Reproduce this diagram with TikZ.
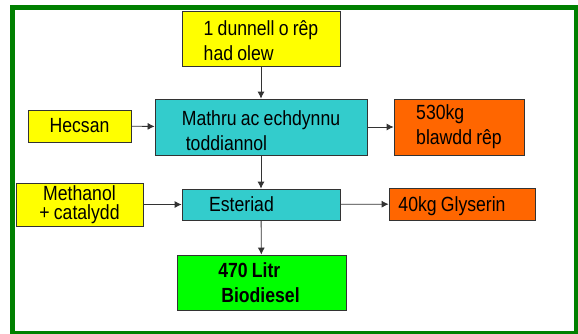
\documentclass[tikz,border=0pt]{standalone}
\usepackage{fontspec}
\setmainfont[FakeStretch=0.86,WordSpace=0.86]{Liberation Sans}
\usetikzlibrary{arrows.meta}
\definecolor{seedyellow}{RGB}{255,255,0}
\definecolor{procteal}{RGB}{51,204,204}
\definecolor{outorange}{RGB}{255,102,0}
\definecolor{fuelgreen}{RGB}{0,255,0}
\definecolor{framegreen}{RGB}{0,128,0}
\tikzset{>={Latex[length=7pt,width=7pt]},
	box/.style={draw=black!80,line width=0.8pt,align=left,inner ysep=0pt,font=\fontsize{20.5}{25}\selectfont},
	ybox/.style={box,fill=seedyellow},
	cbox/.style={box,fill=procteal},
	obox/.style={box,fill=outorange},
	gbox/.style={box,fill=fuelgreen,font=\fontsize{20.5}{24.5}\selectfont\bfseries},
	flow/.style={->,draw=black!80,line width=0.8pt},
	greenframe/.style={draw=framegreen,line width=5pt}}

\begin{document}
\begin{tikzpicture}[x=1pt,y=-1pt]
		\useasboundingbox (0,0) rectangle (578,333);
		\draw [greenframe] (12.5,7.5) rectangle (576.5,333);
		\node (seed) at (261,38.5) [ybox,minimum width=158pt,minimum height=55pt,text height=45pt] {1 dunnell o rêp\\had olew};
		\node (crush) at (261,127) [cbox,minimum width=212pt,minimum height=56pt,text height=47pt] {Mathru ac echdynnu\\\hspace*{4pt}toddiannol};
		\node (hex) at (79.5,126) [ybox,minimum width=103pt,minimum height=32pt] {Hecsan};
		\node (meal) at (459,127) [obox,minimum width=130pt,minimum height=56pt] {530kg\\blawdd rêp};
		\node (meth) at (79.5,204.5) [ybox,minimum width=127pt,minimum height=43pt,align=center,font=\fontsize{20.5}{18.5}\selectfont] {Methanol\\+ catalydd};
		\node (ester) at (261,204.5) [cbox,minimum width=158pt,minimum height=31pt] {Esteriad\hspace*{39pt}};
		\node (glyc) at (462,204) [obox,minimum width=146pt,minimum height=32pt,text depth=0pt] {40kg Glyserin\hspace*{20pt}};
		\node (fuel) at (261.5,282.5) [gbox,minimum width=169pt,minimum height=55pt] {470 Litr\\\hspace*{3pt}Biodiesel\hspace*{5pt}};
		\draw [flow] (seed) -- (crush);
		\draw [flow] (hex) -- (crush);
		\draw [flow] (crush) -- (meal);
		\draw [flow] (crush) -- (ester);
		\draw [flow] (meth) -- (ester);
		\draw [flow] (ester) -- (glyc);
		\draw [flow] (ester) -- (fuel);
\end{tikzpicture}
\end{document}
